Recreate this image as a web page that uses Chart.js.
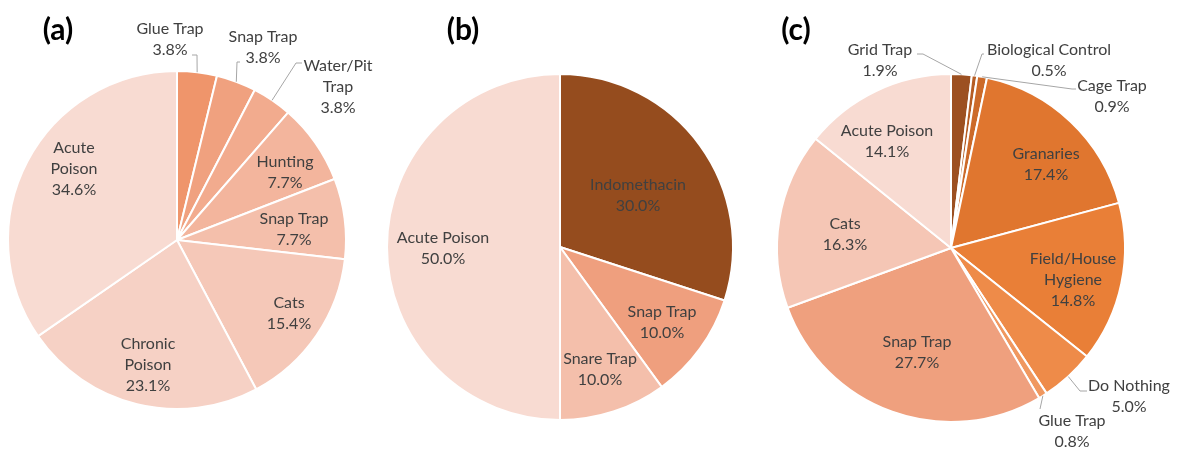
<!DOCTYPE html>
<html>
<head>
<meta charset="utf-8">
<script src="https://cdn.jsdelivr.net/npm/chart.js@4.4.0/dist/chart.umd.min.js"></script>
<style>
  html, body { margin: 0; padding: 0; background: #fff; width: 1177px; height: 452px; overflow: hidden; }
  .panel { position: absolute; top: 0; }
  .panel canvas { display: block; }
</style>
</head>
<body>
<div class="panel" style="left:0px"><canvas id="pieA" width="385" height="452"></canvas></div>
<div class="panel" style="left:385px"><canvas id="pieB" width="385" height="452"></canvas></div>
<div class="panel" style="left:770px"><canvas id="pieC" width="407" height="452"></canvas></div>
<script>
// (a)
const labelsA = [['Glue Trap'], ['Snap Trap'], ['Water/Pit', 'Trap'], ['Hunting'], ['Snap Trap'], ['Cats'], ['Chronic', 'Poison'], ['Acute', 'Poison']];
const valuesA = [3.8, 3.8, 3.8, 7.7, 7.7, 15.4, 23.1, 34.6];
// (b)
const labelsB = [['Indomethacin'], ['Snap Trap'], ['Snare Trap'], ['Acute Poison']];
const valuesB = [30.0, 10.0, 10.0, 50.0];
// (c)
const labelsC = [['Grid Trap'], ['Biological Control'], ['Cage Trap'], ['Granaries'], ['Field/House', 'Hygiene'], ['Do Nothing'], ['Glue Trap'], ['Snap Trap'], ['Cats'], ['Acute Poison']];
const valuesC = [1.9, 0.5, 0.9, 17.4, 14.8, 5.0, 0.8, 27.7, 16.3, 14.1];

const colorsA = ['#EF956B', '#F0A17F', '#F2AB8E', '#F3B59D', '#F4BFAB', '#F5C8B8', '#F6D1C5', '#F8DBD2'];
const colorsB = ['#954C1E', '#EF9F7E', '#F4BFAB', '#F8DBD2'];
const colorsC = ['#9C5021', '#B65D24', '#CC6A29', '#E0762F', '#E97F37', '#EE8B49', '#F09860', '#EFA07E', '#F5C6B5', '#F8DBD2'];

// label block centres and leader-line bends, relative to the pie centre
const placeA = {
  at: [[-7, -201], [86, -193], [161, -153], [108, -68], [117, -11], [112, 73], [-29, 125], [-103, -71]],
  leaders: [[[15, -185], [20, -185]], [[63, -178], [60, -178]], [[125, -177], [119, -177]], null, null, null, null, null]
};
const placeB = {
  at: [[78, -52], [102, 75], [40, 122], [-117, 1]],
  leaders: [null, null, null, null]
};
const placeC = {
  at: [[-71, -188], [98, -188], [161, -152], [95, -84], [122, 32], [178, 148], [121, 183], [-34, 104], [-106, -14], [-64, -107]],
  leaders: [[[-34, -194], [-28, -194]], [[33, -194], [31, -194]], [[125, -159], [121, -159]], null, null,
            [[136, 143], [129, 143]], [[89, 161]], null, null, null]
};

const FONT = '16px Lato, "Liberation Sans", sans-serif';
const TEXT = '#404040';
const LINE_H = 21;

const pieLabels = {
  id: 'pieLabels',
  afterDatasetsDraw(chart, args, opts) {
    const ctx = chart.ctx;
    const arcs = chart.getDatasetMeta(0).data;
    const vals = chart.data.datasets[0].data;
    ctx.save();
    arcs.forEach((arc, i) => {
      const cx = arc.x, cy = arc.y;
      const mid = (arc.startAngle + arc.endAngle) / 2;
      const lead = opts.leaders[i];
      if (lead) {
        ctx.beginPath();
        ctx.strokeStyle = '#A6A6A6';
        ctx.lineWidth = 1;
        lead.forEach((p, j) => {
          if (j === 0) ctx.moveTo(cx + p[0], cy + p[1]);
          else ctx.lineTo(cx + p[0], cy + p[1]);
        });
        ctx.lineTo(cx + Math.cos(mid) * arc.outerRadius, cy + Math.sin(mid) * arc.outerRadius);
        ctx.stroke();
      }
      const lines = [].concat(chart.data.labels[i], vals[i].toFixed(1) + '%');
      const lx = cx + opts.at[i][0];
      const ly = cy + opts.at[i][1] - (lines.length - 1) * LINE_H / 2;
      ctx.font = FONT;
      ctx.fillStyle = TEXT;
      ctx.textAlign = 'center';
      ctx.textBaseline = 'middle';
      lines.forEach((t, k) => ctx.fillText(t, lx, ly + k * LINE_H));
    });
    ctx.font = 'bold 30px Lato, "Liberation Sans", sans-serif';
    ctx.fillStyle = '#000';
    ctx.textAlign = 'center';
    ctx.textBaseline = 'middle';
    ctx.fillText(opts.title, opts.titleAt[0], opts.titleAt[1]);
    ctx.restore();
  }
};

function makePie(id, labels, values, colors, place, centre, radius, title, titleAt) {
  const cv = document.getElementById(id);
  const W = cv.width, H = cv.height;
  new Chart(cv, {
    type: 'pie',
    data: {
      labels: labels,
      datasets: [{
        data: values,
        backgroundColor: colors,
        borderColor: '#fff',
        borderWidth: 2,
        hoverOffset: 0,
        offset: 0,
        radius: radius
      }]
    },
    options: {
      responsive: false,
      animation: false,
      events: [],
      layout: {
        padding: { left: centre[0] - 100, right: W - centre[0] - 100, top: centre[1] - 100, bottom: H - centre[1] - 100 }
      },
      plugins: {
        legend: { display: false },
        tooltip: { enabled: false },
        pieLabels: { at: place.at, leaders: place.leaders, title: title, titleAt: titleAt }
      }
    },
    plugins: [pieLabels]
  });
}

makePie('pieA', labelsA, valuesA, colorsA, placeA, [177, 240], 169, '(a)', [58, 30]);
makePie('pieB', labelsB, valuesB, colorsB, placeB, [175, 247], 173, '(b)', [78, 30]);
makePie('pieC', labelsC, valuesC, colorsC, placeC, [181, 248], 174, '(c)', [26, 30]);
</script>
</body>
</html>
